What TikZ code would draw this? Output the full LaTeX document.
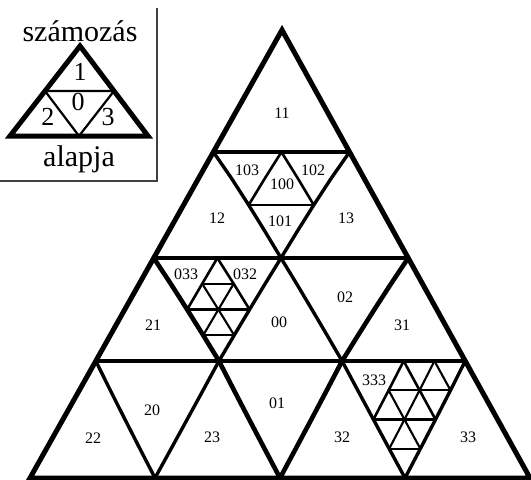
\documentclass[tikz,border=0pt]{standalone}
\usepackage{fontspec}
\setmainfont{Liberation Serif}
\newcommand\lnH[4]{\draw[#1] ({Xp(#3,#2)},{Yv(#2)}) -- ({Xp(#4,#2)},{Yv(#2)});}
\newcommand\lnU[4]{\draw[#1] plot[variable=\t,samples at={#3,...,#4}] ({Xp(#2,\t)},{Yv(\t)});}
\newcommand\lnD[4]{\draw[#1] plot[variable=\t,samples at={#3,...,#4}] ({Xp(\t-#2,\t)},{Yv(\t)});}
\begin{document}
\begin{tikzpicture}[x=1pt,y=-1pt,
  declare function={
    Yv(\v)=ifthenelse(\v<=4,30+30.5*\v,ifthenelse(\v<=8,152+26.5*(\v-4),ifthenelse(\v<=12,258+25.75*(\v-8),361+29.25*(\v-12))));
    Xp(\u,\v)=282-0.5625*(Yv(\v)-30)+1.1161*(Yv(\v)-30)*\u/max(\v,0.01);
  },
  outer/.style={line width=5pt,line join=miter},
  lv1/.style={line width=4.6pt,line cap=round,line join=round},
  lv2/.style={line width=3.4pt,line cap=round,line join=round},
  lv3/.style={line width=2.6pt,line cap=round,line join=round},
  lv4/.style={line width=2.1pt,line cap=round,line join=round},
  lab/.style={font=\fontsize{16}{16}\selectfont,inner sep=0pt},
  big/.style={font=\fontsize{30}{30}\selectfont,inner sep=0pt,anchor=base},
  dig/.style={font=\fontsize{26}{26}\selectfont,inner sep=0pt,anchor=base},
  box/.style={line width=1.5pt,black!75},
  insetouter/.style={line width=5pt,line join=miter},
  insetinner/.style={line width=2.2pt,line join=round},
]
\useasboundingbox (0,0) rectangle (531,480);
% ---- inset ----
\draw[box] (157,8) -- (157,181) -- (0,181);
\coordinate (iA) at (80,46);
\coordinate (iL) at (10,136);
\coordinate (iR) at (148,136);
\coordinate (iml) at (45,91);
\coordinate (imr) at (114,91);
\coordinate (imb) at (79,136);
\draw[insetinner] (iml) -- (imr) -- (imb) -- cycle;
\draw[insetouter] (iA) -- (iL) -- (iR) -- cycle;
\node[big] (title) at (80,41) {számozás};
\node[big] (foot) at (79,166) {alapja};
\node[dig] (d1) at (80,80) {1};
\node[dig] (d0) at (78,110) {0};
\node[dig] (d2) at (48,125) {2};
\node[dig] (d3) at (108,125) {3};
% ---- level 4 lines ----
\lnH{lv4}{9}{2}{3}
\lnU{lv4}{3}{9}{11}
\lnD{lv4}{7}{9}{11}
\lnH{lv4}{11}{3}{4}
\lnH{lv4}{13}{10}{12}
\lnD{lv4}{3}{13}{15}
\lnU{lv4}{11}{12}{15}
\lnD{lv4}{1}{12}{13}
\lnH{lv4}{15}{11}{12}
% ---- level 3 lines ----
\lnH{lv3}{6}{2}{4}
\lnU{lv3}{2}{4}{6}
\lnD{lv3}{2}{4}{6}
\lnH{lv3}{10}{2}{4}
\lnU{lv3}{2}{8}{10}
\lnD{lv3}{6}{8}{10}
\lnH{lv3}{14}{10}{12}
\lnU{lv3}{10}{12}{14}
\lnD{lv3}{2}{12}{14}
% ---- level 2 lines ----
\lnH{lv2}{4}{0}{4}
\lnH{lv2}{12}{0}{12}
\lnU{lv2}{4}{4}{16}
\lnD{lv2}{4}{4}{16}
\lnU{lv2}{12}{12}{16}
\lnD{lv2}{12}{12}{16}
% ---- level 1 lines ----
\lnH{lv1}{8}{0}{8}
\lnD{lv1}{8}{8}{16}
\lnU{lv1}{8}{8}{16}
% ---- outer triangle ----
\coordinate (A) at (282,30);
\coordinate (BL) at ({Xp(0,16)},478);
\coordinate (BR) at ({Xp(16,16)},478);
\draw[outer] (A) -- (BL) -- (BR) -- cycle;
% ---- labels ----
\node[lab] (n11) at (282,113) {11};
\node[lab] (n103) at (247,170) {103};
\node[lab] (n102) at (313,170) {102};
\node[lab] (n100) at (282,184) {100};
\node[lab] (n101) at (280,221) {101};
\node[lab] (n12) at (217,218) {12};
\node[lab] (n13) at (346,218) {13};
\node[lab] (n033) at (186,274) {033};
\node[lab] (n032) at (245,274) {032};
\node[lab] (n00) at (279,322) {00};
\node[lab] (n02) at (345,297) {02};
\node[lab] (n21) at (153,325) {21};
\node[lab] (n31) at (402,325) {31};
\node[lab] (n20) at (152,410) {20};
\node[lab] (n22) at (93,438) {22};
\node[lab] (n23) at (212,437) {23};
\node[lab] (n01) at (277,403) {01};
\node[lab] (n32) at (342,437) {32};
\node[lab] (n33) at (468,437) {33};
\node[lab] (n333) at (374,380) {333};
\end{tikzpicture}
\end{document}
